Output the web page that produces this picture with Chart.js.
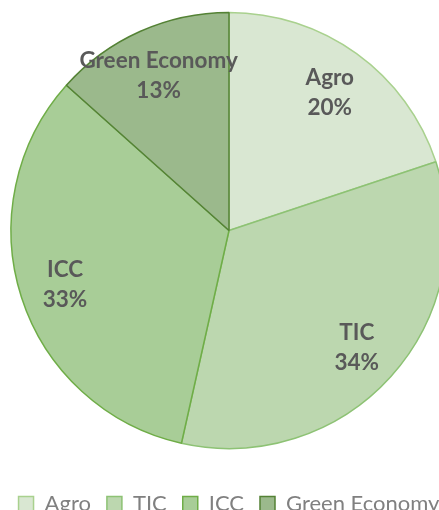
<!DOCTYPE html>
<html>
<head>
<meta charset="utf-8">
<script src="https://cdn.jsdelivr.net/npm/chart.js@4"></script>
<style>
  html, body { margin:0; padding:0; background:#fff; overflow:hidden; width:439px; height:510px; }
  #wrap { position:absolute; left:0; top:-16px; width:458px; height:541px; }
</style>
</head>
<body>
<div id="wrap"><canvas id="pie"></canvas></div>
<script>
var labels = ['Agro', 'TIC', 'ICC', 'Green Economy'];
var shares = [19.9, 33.6, 33.1, 13.4];
var fills = ['#d9e7d2', '#bcd7af', '#a8cd97', '#9bb98c'];
var borders = ['#a9d18e', '#8dc274', '#6fad47', '#548235'];

// labels inside the slices, name + percent
var sliceLabels = {
  id: 'sliceLabels',
  afterDatasetsDraw: function(chart) {
    var ctx = chart.ctx;
    var meta = chart.getDatasetMeta(0);
    var data = chart.data.datasets[0].data;
    var total = data.reduce(function(a, b){ return a + b; }, 0);
    ctx.save();
    ctx.fillStyle = '#595959';
    ctx.font = 'bold 22.5px Lato';
    ctx.textAlign = 'center';
    ctx.textBaseline = 'middle';
    meta.data.forEach(function(arc, i) {
      var p = arc.getProps(['x','y','startAngle','endAngle','outerRadius'], true);
      var mid = (p.startAngle + p.endAngle) / 2;
      var r = p.outerRadius * 0.79;
      var x = p.x + Math.cos(mid) * r;
      var y = p.y + Math.sin(mid) * r + 2;
      ctx.fillText(chart.data.labels[i], x, y - 15);
      ctx.fillText(Math.round(data[i] / total * 100) + '%', x, y + 15);
    });
    ctx.restore();
  }
};

var ctx = document.querySelector('#pie').getContext('2d');
var chart = new Chart(ctx, {
  type: 'pie',
  data: {
    labels: labels,
    datasets: [{
      data: shares,
      backgroundColor: fills,
      borderColor: borders,
      borderWidth: 1.5,
      radius: 218
    }]
  },
  options: {
    responsive: true,
    maintainAspectRatio: false,
    animation: false,
    layout: { padding: 0 },
    plugins: {
      legend: {
        position: 'bottom',
        labels: {
          font: { family: 'Lato', size: 22 },
          color: '#808080',
          boxWidth: 15,
          boxHeight: 15,
          padding: 16
        }
      },
      tooltip: { enabled: false }
    }
  },
  plugins: [sliceLabels]
});
</script>
</body>
</html>
